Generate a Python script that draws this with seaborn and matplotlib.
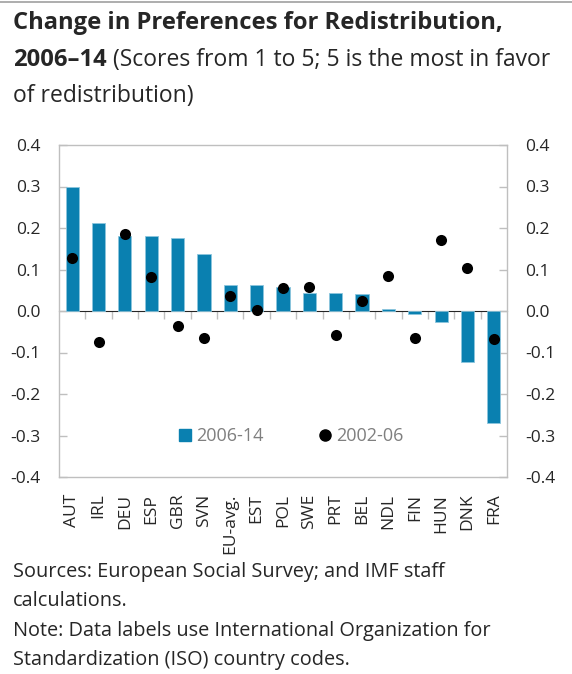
import numpy as np
import pandas as pd
import seaborn as sns
import matplotlib.pyplot as plt
from matplotlib.lines import Line2D

countries = ['AUT', 'IRL', 'DEU', 'ESP', 'GBR', 'SVN', 'EU-avg.', 'EST', 'POL',
             'SWE', 'PRT', 'BEL', 'NDL', 'FIN', 'HUN', 'DNK', 'FRA']
change_0614 = [0.298, 0.211, 0.181, 0.181, 0.176, 0.137, 0.063, 0.063, 0.059,
               0.043, 0.043, 0.040, 0.006, -0.007, -0.027, -0.124, -0.271]
change_0206 = [0.128, -0.075, 0.186, 0.083, -0.036, -0.064, 0.036, 0.002, 0.055,
               0.059, -0.059, 0.025, 0.085, -0.064, 0.172, 0.103, -0.067]
yticks = [-0.4, -0.3, -0.2, -0.1, 0.0, 0.1, 0.2, 0.3, 0.4]

df = pd.DataFrame({'Country': countries, 'p0614': change_0614, 'p0206': change_0206})

sns.set_style('white')
plt.rcParams['font.family'] = ['Open Sans', 'DejaVu Sans']

blue = '#0a80b0'
frame = '#bfbfbf'

fig = plt.figure(figsize=(5.72, 6.74), dpi=100)
ax = fig.add_axes([59 / 572, 1 - 477 / 674, 448 / 572, 332 / 674])

sns.barplot(data=df, x='Country', y='p0614', color=blue, width=0.5,
            edgecolor='#8cc6de', linewidth=0.6, saturation=1, ax=ax)
sns.stripplot(data=df, x='Country', y='p0206', color='black', jitter=False,
              size=8, ax=ax, zorder=5)

ax.set_ylim(-0.4, 0.4)
ax.set_xlim(-0.5, len(countries) - 0.5)
ax.set_xlabel('')
ax.set_ylabel('')
ax.set_yticks(yticks)
ax.set_yticklabels([f'{abs(v):.1f}' if v == 0 else f'{v:.1f}' for v in yticks])
ax.tick_params(axis='y', direction='in', length=6, color=frame, width=1,
               labelsize=12.5, pad=13, left=True, right=True,
               labelleft=True, labelright=True)
ax.tick_params(axis='x', length=0, labelsize=12.5, rotation=90, pad=12)
for s in ax.spines.values():
    s.set_color(frame)
    s.set_linewidth(1)

# zero line with category boundary ticks
zero = ax.secondary_xaxis(0.5)
zero.set_xticks(np.arange(0.5, len(countries) - 1, 1))
zero.set_xticklabels([])
zero.tick_params(direction='in', length=6, color=frame, width=1)
zero.spines['bottom'].set_color(frame)
zero.spines['bottom'].set_linewidth(1)

handles = [Line2D([], [], marker='s', color=blue, linestyle='none', markersize=8.5),
           Line2D([], [], marker='o', color='black', linestyle='none', markersize=8)]
ax.legend(handles, ['2006-14', '2002-06'], loc='center', ncol=2,
          bbox_to_anchor=(0.515, 0.123), frameon=False, fontsize=13,
          handletextpad=0.1, columnspacing=2.9, handlelength=1.0,
          labelcolor='#7f7f7f')

# title
fig.text(13 / 572, 1 - 23 / 674, 'Change in Preferences for Redistribution,',
         fontsize=17.1, fontweight='bold', va='center')
t2 = fig.text(13 / 572, 1 - 60 / 674, '2006–14', fontsize=17.1, fontweight='bold',
              va='center')
fig.add_artist(plt.Annotation(' (Scores from 1 to 5; 5 is the most in favor',
                              xy=(1, 0), xycoords=t2, va='bottom', fontsize=16.5))
fig.text(13 / 572, 1 - 96 / 674, 'of redistribution)', fontsize=16.5, va='center')

# notes
notes = ['Sources: European Social Survey; and IMF staff', 'calculations.',
         'Note: Data labels use International Organization for',
         'Standardization (ISO) country codes.']
for i, line in enumerate(notes):
    fig.text(13 / 572, 1 - (572 + 29.3 * i) / 674, line, fontsize=14.3, va='center')

fig.add_artist(Line2D([0, 1], [1 - 1.5 / 674, 1 - 1.5 / 674], color='#a0a0a0', lw=1.2))

fig.savefig('out.png', dpi=100)
